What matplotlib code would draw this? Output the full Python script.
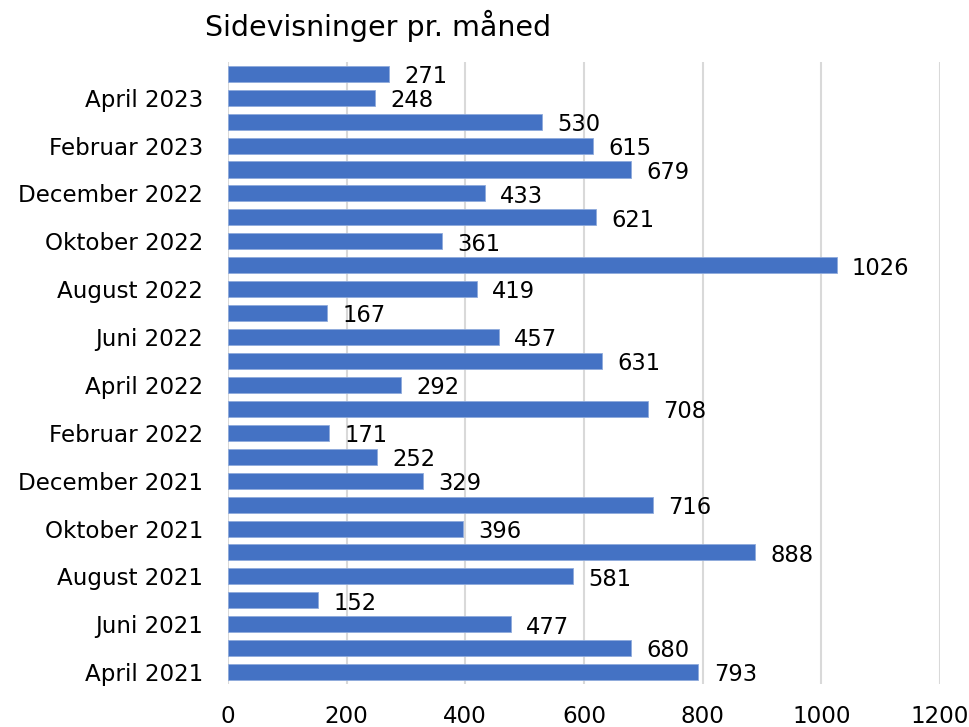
import numpy as np
import matplotlib.pyplot as plt

months = ['April 2021', 'Maj 2021', 'Juni 2021', 'Juli 2021', 'August 2021',
          'September 2021', 'Oktober 2021', 'November 2021', 'December 2021',
          'Januar 2022', 'Februar 2022', 'Marts 2022', 'April 2022', 'Maj 2022',
          'Juni 2022', 'Juli 2022', 'August 2022', 'September 2022',
          'Oktober 2022', 'November 2022', 'December 2022', 'Januar 2023',
          'Februar 2023', 'Marts 2023', 'April 2023', 'Maj 2023']
views = [793, 680, 477, 152, 581, 888, 396, 716, 329, 252, 171, 708, 292, 631,
         457, 167, 419, 1026, 361, 621, 433, 679, 615, 530, 248, 271]

plt.rcParams['font.family'] = ['DejaVu Sans']

fig = plt.figure(figsize=(9.7, 7.27), dpi=100)
ax = fig.add_axes([0.235, 0.059, 0.734, 0.856])

y = np.arange(len(months))
bars = ax.barh(y, views, height=0.67, color='#4472C4', edgecolor='#8FAADC', linewidth=0.6, zorder=3)

# data labels to the right of each bar
for b, v in zip(bars, views):
    ax.annotate(str(v), (b.get_width(), b.get_y() + b.get_height() / 2),
                xytext=(11, -2), textcoords='offset points', va='center', ha='left',
                fontsize=16.3, color='#000000')

ax.set_ylim(-0.5, len(months) - 0.5)
ax.set_xlim(0, 1200)
ax.set_xticks(range(0, 1201, 200))
ax.set_yticks(y[::2])
ax.set_yticklabels(months[::2])
ax.tick_params(axis='both', length=0, labelsize=16.6, colors='#000000')
ax.tick_params(axis='y', pad=18)
ax.tick_params(axis='x', pad=15)
ax.grid(axis='x', color='#D9D9D9', linewidth=1.5, zorder=0)
for s in ax.spines.values():
    s.set_visible(False)

fig.text(0.211, 0.965, 'Sidevisninger pr. måned', fontsize=20.5, va='center', ha='left')

fig.savefig('out.png', dpi=100, facecolor='white')
